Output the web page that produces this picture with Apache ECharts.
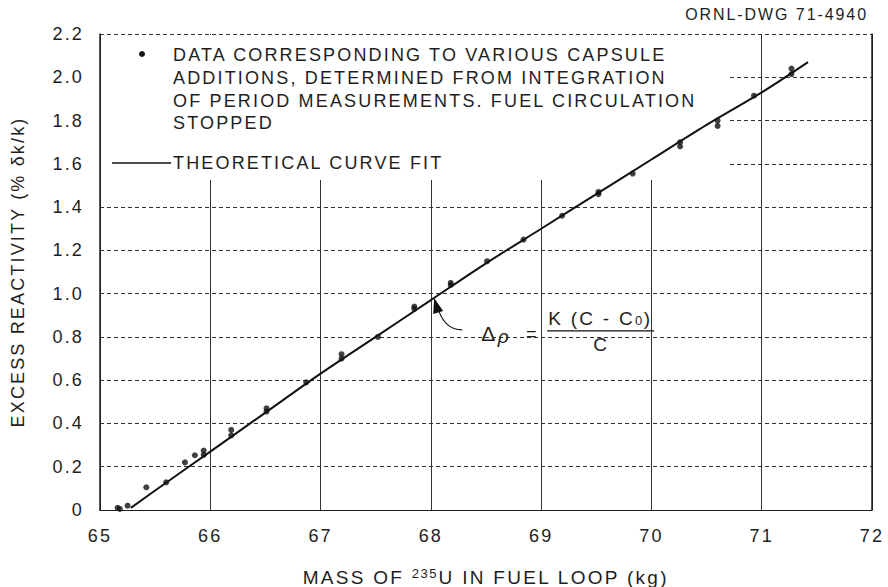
<!DOCTYPE html>
<html>
<head>
<meta charset="utf-8">
<script src="https://cdn.jsdelivr.net/npm/echarts@6/dist/echarts.min.js"></script>
<style>
  html, body { margin: 0; padding: 0; background: #fff; }
  #chart { width: 888px; height: 587px; }
  /* wide technical lettering */
  #chart svg text { letter-spacing: 0.12em; }
</style>
</head>
<body>
<div id="chart"></div>
<script>
// Measured capsule-addition points: mass of U-235 in loop (kg) vs excess reactivity (% dk/k)
const capsuleMass = [65.16, 65.18, 65.25, 65.42, 65.60, 65.77, 65.86, 65.94, 65.94, 66.19, 66.19,
  66.51, 66.51, 66.87, 67.19, 67.19, 67.52, 67.85, 67.85, 68.18, 68.18, 68.51, 68.84, 69.19,
  69.52, 69.52, 69.83, 70.26, 70.26, 70.60, 70.60, 70.93, 71.27, 71.27];
const capsuleRho = [0.010, 0.005, 0.020, 0.105, 0.128, 0.220, 0.253, 0.275, 0.255, 0.370, 0.345,
  0.470, 0.455, 0.590, 0.720, 0.700, 0.800, 0.940, 0.930, 1.050, 1.040, 1.150, 1.250, 1.360,
  1.470, 1.460, 1.555, 1.700, 1.680, 1.800, 1.775, 1.915, 2.040, 2.015];

// Theoretical curve fit
const fitMass = [65.28, 65.5, 66.0, 66.5, 67.0, 67.5, 68.0, 68.5, 69.0, 69.5, 70.0, 70.5, 71.0, 71.42];
const fitRho  = [0.01, 0.09, 0.27, 0.45, 0.63, 0.80, 0.97, 1.14, 1.30, 1.46, 1.62, 1.78, 1.93, 2.07];

// Tick labels
const xTickLabels = ['65', '66', '67', '68', '69', '70', '71', '72'];
const yTickLabels = ['0', '0.2', '0.4', '0.6', '0.8', '1.0', '1.2', '1.4', '1.6', '1.8', '2.0', '2.2'];

const LETTER_SPACING_EM = 0.12;
const FONT = '"Liberation Sans", Arial, sans-serif';
const INK = '#1e1e1e';

// Text measurement that includes the letter spacing used by the stylesheet
if (echarts.setPlatformAPI) {
  const mctx = document.createElement('canvas').getContext('2d');
  echarts.setPlatformAPI({
    measureText: function (text, font) {
      mctx.font = font || '12px sans-serif';
      const m = /(\d+(?:\.\d+)?)px/.exec(mctx.font);
      const size = m ? parseFloat(m[1]) : 12;
      const w = mctx.measureText(text).width + String(text).length * size * LETTER_SPACING_EM;
      return { width: w };
    }
  });
}

const chart = echarts.init(document.getElementById('chart'), null, { renderer: 'svg' });

const option = {
  animation: false,
  backgroundColor: '#fff',
  textStyle: { fontFamily: FONT, color: INK },
  grid: { left: 100, right: 16, top: 34, bottom: 77, containLabel: false, outerBoundsMode: 'none' },
  xAxis: [{
    type: 'value', min: 65, max: 72, interval: 1,
    name: '{t|MASS OF }{s|235}{t|U IN FUEL LOOP (kg)}',
    nameLocation: 'middle', nameGap: 56,
    nameTextStyle: {
      rich: {
        t: { fontSize: 19, color: INK, fontFamily: FONT, verticalAlign: 'bottom', lineHeight: 22 },
        s: { fontSize: 13, color: INK, fontFamily: FONT, verticalAlign: 'top', lineHeight: 22, padding: [0, 0, 10, 0] }
      }
    },
    axisLabel: {
      fontSize: 18, color: INK, margin: 16,
      formatter: v => xTickLabels[Math.round(v - 65)]
    },
    axisTick: { show: false },
    axisLine: { show: true, lineStyle: { color: INK, width: 1.2 } },
    splitLine: { show: true, lineStyle: { color: '#333', width: 1, type: 'solid' } }
  }, {
    type: 'value', min: 65, max: 72, interval: 1, position: 'top',
    axisLabel: { show: false }, axisTick: { show: false }, splitLine: { show: false },
    axisLine: { show: true, lineStyle: { color: INK, width: 1, type: [2, 2] } }
  }],
  yAxis: [{
    type: 'value', min: 0, max: 2.2, interval: 0.2,
    name: 'EXCESS REACTIVITY (% δk/k)',
    nameLocation: 'middle', nameGap: 72,
    nameTextStyle: { fontSize: 18, color: INK },
    axisLabel: {
      fontSize: 18, color: INK, margin: 16,
      formatter: v => yTickLabels[Math.round(v / 0.2)]
    },
    axisTick: { show: false },
    axisLine: { show: true, lineStyle: { color: INK, width: 1.5 } },
    splitLine: { show: true, lineStyle: { color: '#333', width: 1, type: [4, 3] } }
  }, {
    type: 'value', min: 0, max: 2.2, interval: 0.2, position: 'right',
    axisLabel: { show: false }, axisTick: { show: false }, splitLine: { show: false },
    axisLine: { show: true, lineStyle: { color: INK, width: 1.5 } }
  }],
  series: [{
    name: 'THEORETICAL CURVE FIT',
    type: 'line',
    data: fitMass.map((m, i) => [m, fitRho[i]]),
    smooth: 0.3,
    showSymbol: false,
    lineStyle: { color: '#111', width: 2 },
    z: 3
  }, {
    name: 'DATA',
    type: 'scatter',
    data: capsuleMass.map((m, i) => [m, capsuleRho[i]]),
    symbol: 'circle',
    symbolSize: 6,
    itemStyle: { color: '#111' },
    z: 4
  }]
};
chart.setOption(option);

// Annotations: legend block, drawing number, and the fit equation with its pointer
const tip = chart.convertToPixel({ xAxisIndex: 0, yAxisIndex: 0 }, [68.03, 0.985]);
const tx = tip[0], ty = tip[1] + 3;

chart.setOption({
  graphic: [
    // blank panel behind the legend text
    { type: 'rect', z: 1, silent: true,
      shape: { x: 101, y: 35, width: 626, height: 145 },
      style: { fill: '#fff' } },
    { type: 'text', z: 5, x: 868, y: 6,
      style: { text: 'ORNL-DWG 71-4940', fontSize: 16, fill: INK, fontFamily: FONT, align: 'right' } },
    { type: 'circle', z: 5, shape: { cx: 142, cy: 54, r: 3 }, style: { fill: '#111' } },
    { type: 'text', z: 5, x: 173, y: 44,
      style: {
        text: 'DATA CORRESPONDING TO VARIOUS CAPSULE\nADDITIONS, DETERMINED FROM INTEGRATION\nOF PERIOD MEASUREMENTS. FUEL CIRCULATION\nSTOPPED',
        fontSize: 18, lineHeight: 22.7, fill: INK, fontFamily: FONT
      } },
    { type: 'line', z: 5, shape: { x1: 112, y1: 163, x2: 171, y2: 163 },
      style: { stroke: '#111', lineWidth: 1.6 } },
    { type: 'text', z: 5, x: 173, y: 153,
      style: { text: 'THEORETICAL CURVE FIT', fontSize: 18, fill: INK, fontFamily: FONT } },
    // pointer from the equation to the curve
    { type: 'bezierCurve', z: 5,
      shape: { x1: tx + 28, y1: ty + 30, cpx1: tx + 12, cpy1: ty + 30, x2: tx + 5, y2: ty + 12 },
      style: { stroke: '#111', lineWidth: 1.2, fill: null } },
    { type: 'polygon', z: 5,
      shape: { points: [[tx, ty - 2], [tx - 1, ty + 14], [tx + 9, ty + 11]] },
      style: { fill: '#111' } },
    // equation  Δρ = K (C − C0) / C
    { type: 'text', z: 5, x: tx + 47, y: ty + 20,
      style: {
        text: '{d|Δ}{r|ρ}{e| =}',
        rich: {
          d: { fontSize: 21, fill: INK, fontFamily: FONT },
          r: { fontSize: 19, fill: INK, fontFamily: FONT, fontStyle: 'italic', padding: [6, 0, 0, 0] },
          e: { fontSize: 18, fill: INK, fontFamily: FONT, padding: [0, 0, 0, 8] }
        }
      } },
    { type: 'text', z: 5, x: tx + 114, y: ty + 8,
      style: {
        text: '{t|K (C - C}{s|0}{t|)}',
        rich: {
          t: { fontSize: 19, fill: INK, fontFamily: FONT, verticalAlign: 'top', lineHeight: 20 },
          s: { fontSize: 13, fill: INK, fontFamily: FONT, verticalAlign: 'bottom', lineHeight: 20, padding: [8, 0, 0, 0] }
        }
      } },
    { type: 'line', z: 5, shape: { x1: tx + 113, y1: ty + 31, x2: tx + 220, y2: ty + 31 },
      style: { stroke: '#111', lineWidth: 1.2 } },
    { type: 'text', z: 5, x: tx + 167, y: ty + 34,
      style: { text: 'C', fontSize: 19, fill: INK, fontFamily: FONT, align: 'center' } }
  ]
});
</script>
</body>
</html>
